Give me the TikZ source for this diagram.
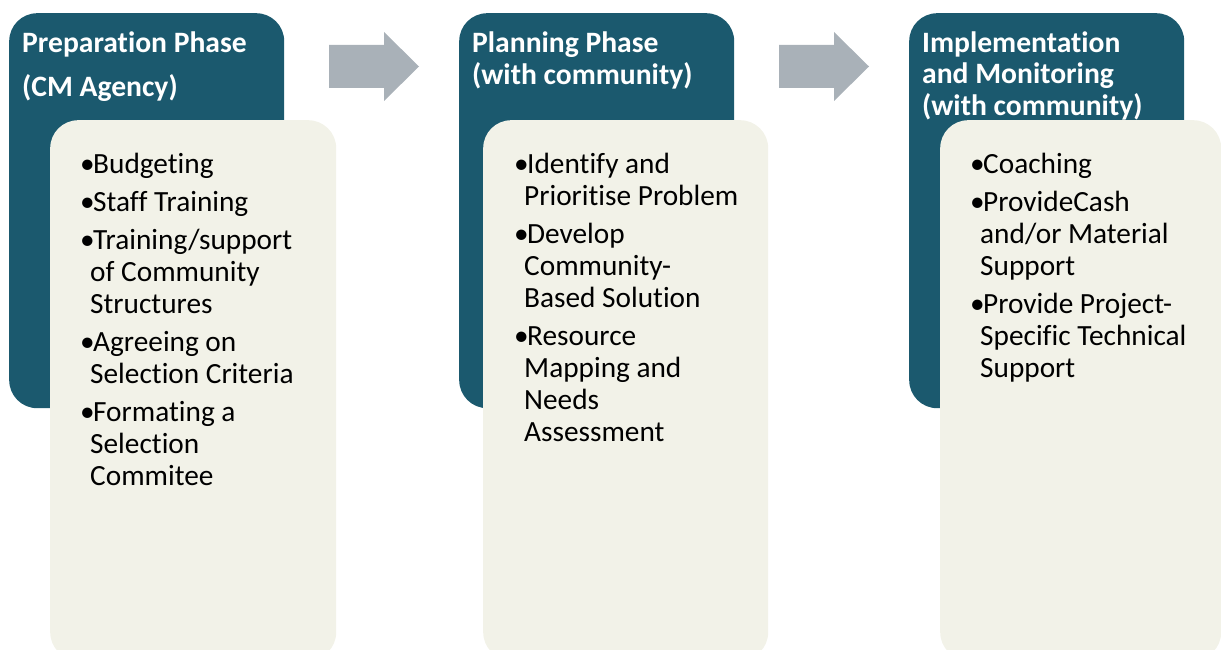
\documentclass[tikz,border=0pt]{standalone}
\usepackage{fontspec}
\setmainfont{Carlito}[Ligatures={NoCommon}]
\usepackage{xcolor}
\usepackage{tikz}
\usetikzlibrary{positioning}

\definecolor{phaseteal}{HTML}{1B596E}
\definecolor{listcream}{HTML}{F2F2E8}
\definecolor{arrowgrey}{HTML}{A9B1B8}

\newcommand{\bul}{\strut\makebox[13pt][l]{\textbullet}}
\newcommand{\ind}{\strut\hspace*{10pt}}

\begin{document}
\begin{tikzpicture}[x=1pt,y=-1pt,
  phase/.style={fill=phaseteal,rounded corners=28pt,anchor=north west,inner sep=0pt,
    minimum width=275pt,minimum height=395pt},
  steps/.style={fill=listcream,rounded corners=28pt,anchor=north west,inner sep=0pt,
    minimum height=540pt},
  head/.style={text=white,anchor=north west,inner sep=0pt,align=left,
    font=\fontsize{29.6}{31}\selectfont\bfseries},
  items/.style={anchor=north west,inner sep=0pt,align=left,
    font=\fontsize{29.3}{32}\selectfont}]
\useasboundingbox (0,0) rectangle (1221,650);
\clip (0,0) rectangle (1221,650);
\def\blockarrow{-- ++(55,0) -- ++(0,-13) -- ++(35,34.5) -- ++(-35,34.5) -- ++(0,-13) -- ++(-55,0) -- cycle}
  % phases
  \node[phase] (prep) at (9,13) {};
  \node[phase] (plan) at (459,13) {};
  \node[phase] (impl) at (909,13) {};
  \node[head] (prepHead) at (22,30.3) {\strut Preparation Phase\\[12pt]\strut(CM Agency)};
  \node[head] (planHead) at (472,30.3) {\strut Planning Phase\\\strut(with community)};
  \node[head] (implHead) at (922,30.3) {\strut Implementation\\\strut and Monitoring\\\strut(with community)};
  % step lists
  \node[steps,minimum width=286pt] (prepList) at (50,120) {};
  \node[steps,minimum width=285pt] (planList) at (483,120) {};
  \node[steps,minimum width=281pt] (implList) at (940,120) {};
  \node[items] (prepItems) at (80,150.6) {\bul Budgeting\\[6pt]
    \bul Staff Training\\[6pt]
    \bul Training/support\\ \ind of Community\\ \ind Structures\\[6pt]
    \bul Agreeing on\\ \ind Selection Criteria\\[6pt]
    \bul Formating a\\ \ind Selection\\ \ind Commitee};
  \node[items] (planItems) at (514,150.6) {\bul Identify and\\ \ind Prioritise Problem\\[6pt]
    \bul Develop\\ \ind Community-\\ \ind Based Solution\\[6pt]
    \bul Resource\\ \ind Mapping and\\ \ind Needs\\ \ind Assessment};
  \node[items] (implItems) at (970,150.6) {\bul Coaching\\[6pt]
    \bul ProvideCash\\ \ind and/or Material\\ \ind Support\\[6pt]
    \bul Provide Project-\\ \ind Specific Technical\\ \ind Support};
  % arrows between phases
  \fill[arrowgrey] (329,45) \blockarrow;
  \fill[arrowgrey] (779,45) \blockarrow;
\end{tikzpicture}
\end{document}
